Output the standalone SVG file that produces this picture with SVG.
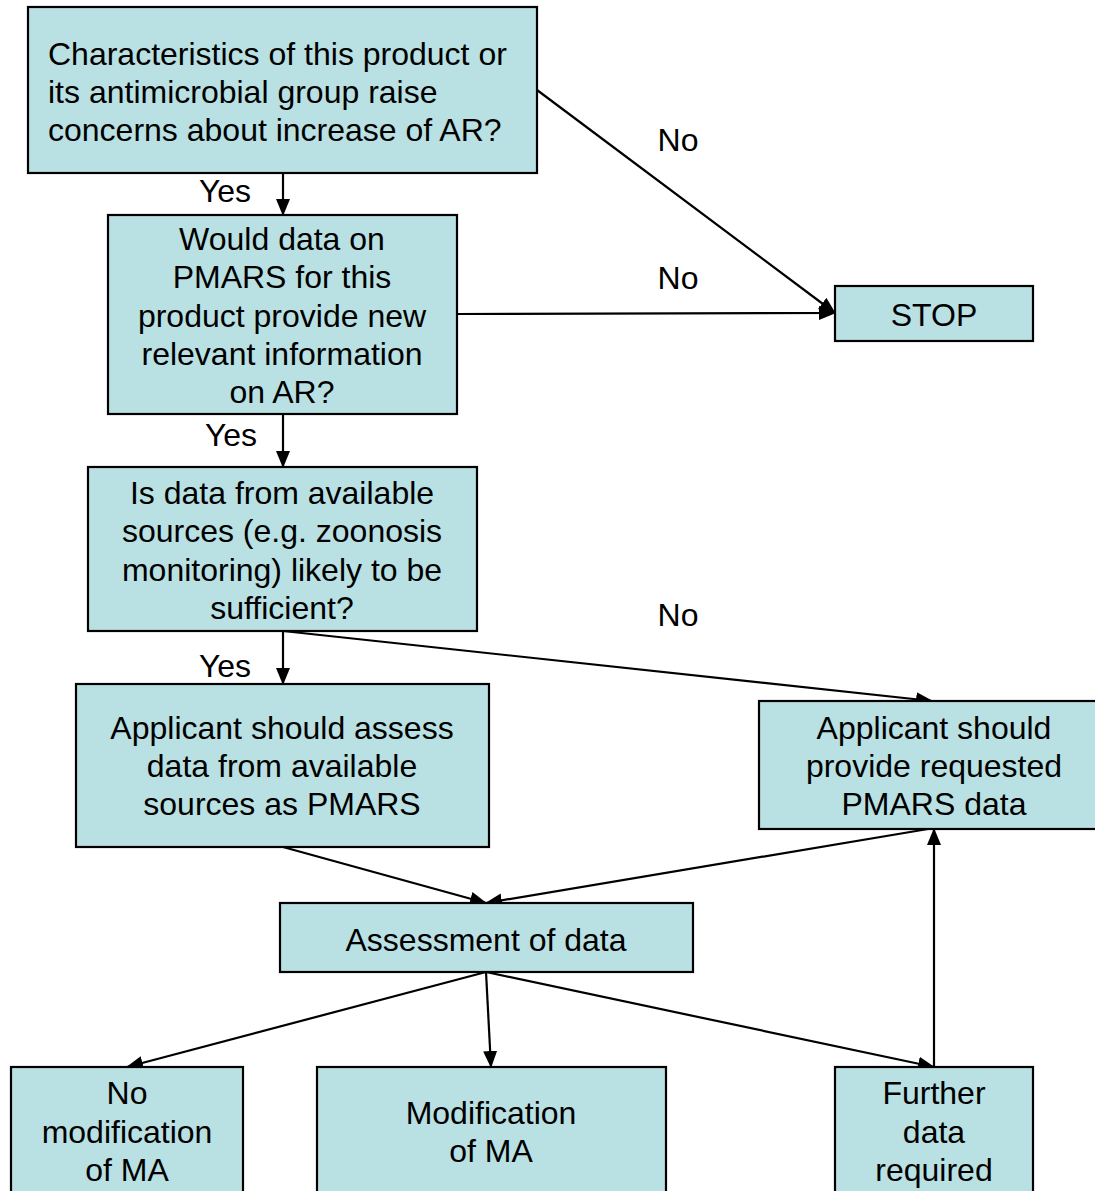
<svg xmlns="http://www.w3.org/2000/svg" width="1095" height="1191" viewBox="0 0 1095 1191">
<style>
.box{fill:#B9E0E3;stroke:#000;stroke-width:2.2}
.t{font-family:"Liberation Sans",Arial,sans-serif;font-size:32px;fill:#000}
.c{text-anchor:middle}
.edge{stroke:#000;stroke-width:2.2;fill:none;marker-end:url(#ah)}
</style>
<defs>
<marker id="ah" markerUnits="userSpaceOnUse" markerWidth="17" markerHeight="15" refX="16" refY="7" orient="auto">
<path d="M0,0 L17,7 L0,14 z" fill="#000"/>
</marker>
</defs>
<rect width="1095" height="1191" fill="#fff"/>
<g id="connectors">
<line class="edge" x1="283" y1="173" x2="283" y2="215"/>
<line class="edge" x1="537" y1="90" x2="835" y2="313"/>
<line class="edge" x1="457" y1="314" x2="835" y2="313"/>
<line class="edge" x1="283" y1="414" x2="283" y2="467"/>
<line class="edge" x1="283" y1="631" x2="283" y2="684"/>
<line class="edge" x1="283" y1="631" x2="932" y2="701"/>
<line class="edge" x1="283" y1="847" x2="486" y2="903"/>
<line class="edge" x1="928" y1="829" x2="486" y2="903"/>
<line class="edge" x1="486" y1="972" x2="127" y2="1067"/>
<line class="edge" x1="486" y1="972" x2="491" y2="1067"/>
<line class="edge" x1="486" y1="972" x2="934" y2="1067"/>
<line class="edge" x1="934" y1="1067" x2="934" y2="829"/>
<text class="t c" x="225" y="202">Yes</text>
<text class="t c" x="678" y="151">No</text>
<text class="t c" x="678" y="289">No</text>
<text class="t c" x="231" y="446">Yes</text>
<text class="t c" x="225" y="677">Yes</text>
<text class="t c" x="678" y="626">No</text>
</g>
<g id="n1">
<rect class="box" x="28" y="7" width="509" height="166"/>
<text class="t" x="48" y="65">Characteristics of this product or</text>
<text class="t" x="48" y="103">its antimicrobial group raise</text>
<text class="t" x="48" y="141">concerns about increase of AR?</text>
</g>
<g id="n2">
<rect class="box" x="108" y="215" width="349" height="199"/>
<text class="t c" x="282" y="250">Would data on</text>
<text class="t c" x="282" y="288">PMARS for this</text>
<text class="t c" x="282" y="327">product provide new</text>
<text class="t c" x="282" y="365">relevant information</text>
<text class="t c" x="282" y="403">on AR?</text>
</g>
<g id="stop">
<rect class="box" x="835" y="286" width="198" height="55"/>
<text class="t c" x="934" y="326">STOP</text>
</g>
<g id="n3">
<rect class="box" x="88" y="467" width="389" height="164"/>
<text class="t c" x="282" y="504">Is data from available</text>
<text class="t c" x="282" y="542">sources (e.g. zoonosis</text>
<text class="t c" x="282" y="581">monitoring) likely to be</text>
<text class="t c" x="282" y="619">sufficient?</text>
</g>
<g id="n4">
<rect class="box" x="76" y="684" width="413" height="163"/>
<text class="t c" x="282" y="739">Applicant should assess</text>
<text class="t c" x="282" y="777">data from available</text>
<text class="t c" x="282" y="815">sources as PMARS</text>
</g>
<g id="n5">
<rect class="box" x="759" y="701" width="340" height="128"/>
<text class="t c" x="934" y="739">Applicant should</text>
<text class="t c" x="934" y="777">provide requested</text>
<text class="t c" x="934" y="815">PMARS data</text>
</g>
<g id="n6">
<rect class="box" x="280" y="903" width="413" height="69"/>
<text class="t c" x="486" y="951">Assessment of data</text>
</g>
<g id="n7">
<rect class="box" x="11" y="1067" width="232" height="130"/>
<text class="t c" x="127" y="1104">No</text>
<text class="t c" x="127" y="1143">modification</text>
<text class="t c" x="127" y="1181">of MA</text>
</g>
<g id="n8">
<rect class="box" x="317" y="1067" width="349" height="130"/>
<text class="t c" x="491" y="1124">Modification</text>
<text class="t c" x="491" y="1162">of MA</text>
</g>
<g id="n9">
<rect class="box" x="835" y="1067" width="198" height="130"/>
<text class="t c" x="934" y="1104">Further</text>
<text class="t c" x="934" y="1143">data</text>
<text class="t c" x="934" y="1181">required</text>
</g>
</svg>
